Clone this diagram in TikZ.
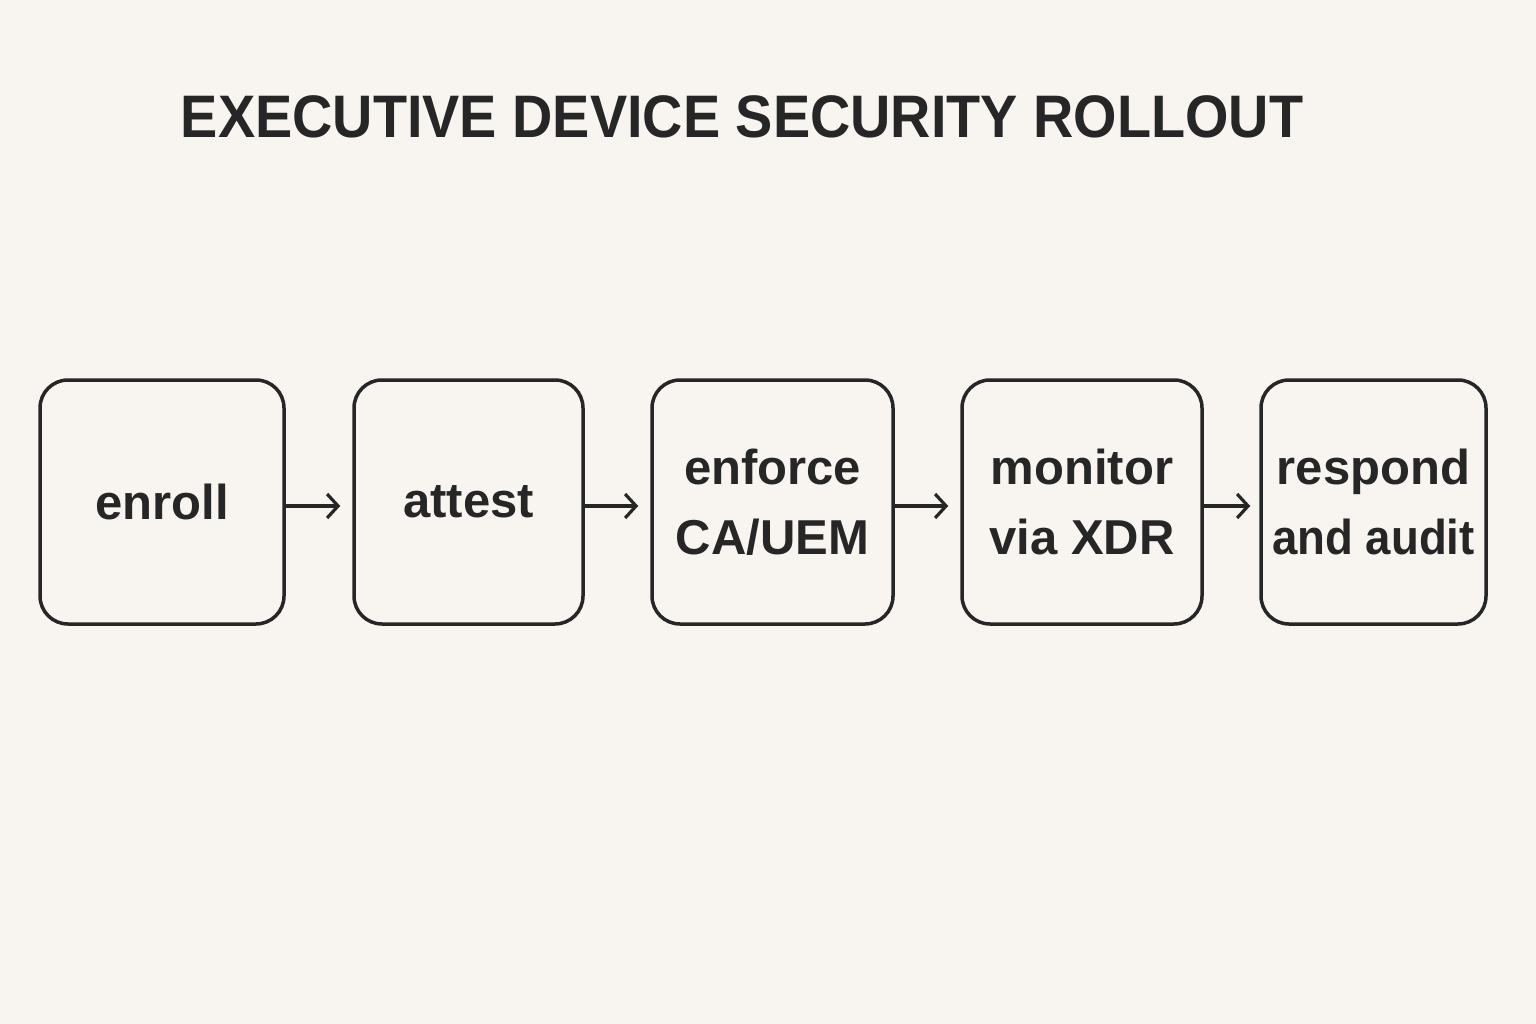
\documentclass[tikz,border=0pt]{standalone}
\usepackage{fontspec}
\setmainfont{Liberation Sans}
\usetikzlibrary{arrows.meta}
\definecolor{bg}{HTML}{F8F5F0}
\definecolor{ink}{HTML}{262626}
\tikzset{
  stepbox/.style={draw=ink, line width=3.5pt, rounded corners=28pt, minimum height=244pt, inner sep=0pt, align=center, text=ink, font=\fontsize{49}{70}\selectfont\bfseries},
  arr/.style={draw=ink, line width=3.2pt, -{Straight Barb[length=11pt,width=24pt,line width=3.2pt]}}
}
\begin{document}
\begin{tikzpicture}[x=1pt,y=-1pt]
\fill[bg] (0,0) rectangle (1536,1024);
\useasboundingbox (0,0) rectangle (1536,1024);
\node[text=ink, font=\fontsize{60}{60}\selectfont\bfseries] (title) at (742,117) {\scalebox{0.93}[1]{EXECUTIVE DEVICE SECURITY ROLLOUT}};
\node[stepbox, minimum width=244pt] (b1) at (162,502) {enroll};
\node[stepbox, minimum width=229pt] (b2) at (468.5,502) {attest};
\node[stepbox, minimum width=241pt] (b3) at (772.5,502) {enforce\\CA/UEM};
\node[stepbox, minimum width=240pt] (b4) at (1082,502) {monitor\\via XDR};
\node[stepbox, minimum width=225pt] (b5) at (1373.5,502) {respond\\\scalebox{0.93}[1]{and audit}};
\draw[arr] ([yshift=-4pt]b1.east) -- ([xshift=-12pt,yshift=-4pt]b2.west);
\draw[arr] ([yshift=-4pt]b2.east) -- ([xshift=-12pt,yshift=-4pt]b3.west);
\draw[arr] ([yshift=-4pt]b3.east) -- ([xshift=-12pt,yshift=-4pt]b4.west);
\draw[arr] ([yshift=-4pt]b4.east) -- ([xshift=-9pt,yshift=-4pt]b5.west);
\end{tikzpicture}
\end{document}
